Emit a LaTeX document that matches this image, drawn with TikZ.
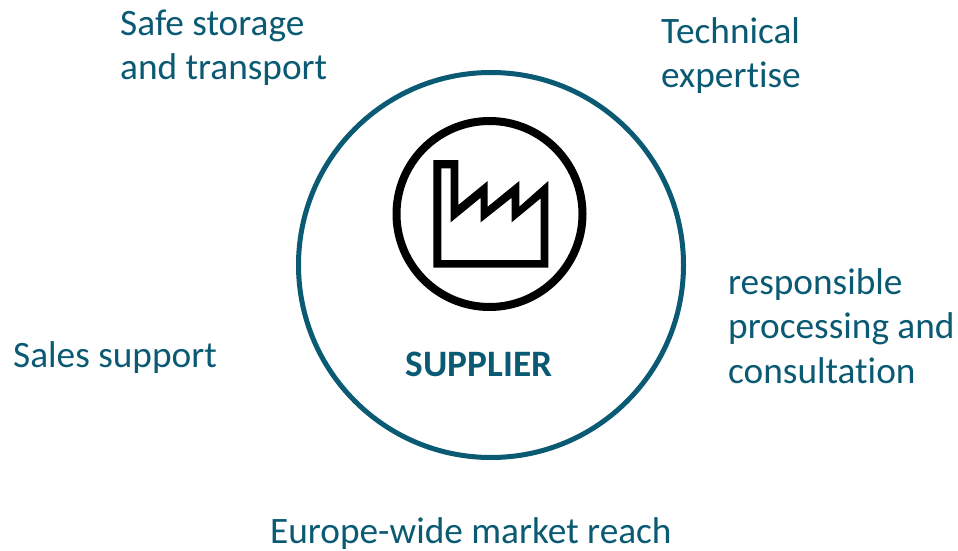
\documentclass[tikz,border=0pt]{standalone}
\usepackage{fontspec}
\setmainfont[Ligatures=NoCommon]{Carlito}
\usetikzlibrary{positioning}
\definecolor{teal}{HTML}{0B5A73}
\tikzset{
	label/.style={text=teal, font=\fontsize{37.3}{44.5}\selectfont, align=left, anchor=west, inner sep=0pt},
}
\begin{document}
\begin{tikzpicture}[x=1pt, y=-1pt]
	\useasboundingbox (0,0) rectangle (958,551);
	\node[circle, draw=teal, line width=5pt, minimum size=385pt, inner sep=0pt] (supplier) at (491,265) {};
	\node[circle, draw=black, line width=8pt, minimum size=186pt, inner sep=0pt] (icon) at (489.5,214) {};
	% factory, outer and inner outline
	\fill[black, even odd rule] (433.3,267.7) -- (433.3,160) -- (458.3,160) -- (458.3,205) -- (487.7,181) -- (487.7,206.7)
	-- (519.3,181) -- (519.3,206.7) -- (548.3,181) -- (548.3,267.7) -- cycle
	(441.3,168.3) -- (450.7,168.3) -- (450.7,222.3) -- (480.7,197.7) -- (480.7,222.3)
	-- (511.7,197.7) -- (511.7,222.3) -- (540.7,198.3) -- (540.7,260) -- (441.3,260) -- cycle;

	\node[text=teal, font=\fontsize{37.3}{44.5}\selectfont\bfseries] (name) at (479,364) {SUPPLIER};
	\node[label] (storage) at (120,47.5) {Safe storage\\and transport};
	\node[label] (expertise) at (661,55.5) {Technical\\expertise};
	\node[label] (processing) at (728,326) {responsible\\processing and\\consultation};
	\node[label] (sales) at (13,358) {Sales support};
	\node[label] (market) at (270,534) {Europe-wide market reach};
\end{tikzpicture}
\end{document}
